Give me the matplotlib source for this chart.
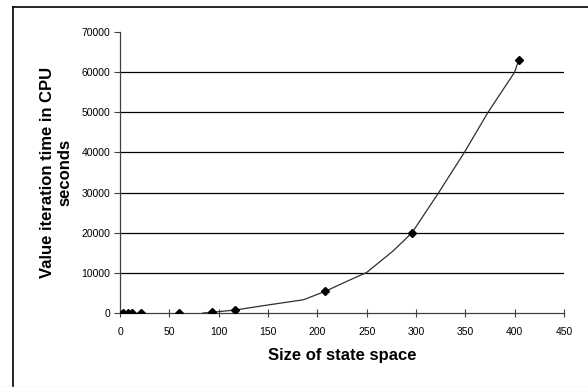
import matplotlib.pyplot as plt
from matplotlib.lines import Line2D

plt.rcParams['font.family'] = ['Liberation Sans', 'DejaVu Sans']

# measured run times
sizes = [3, 8, 12, 21, 60, 93, 117, 208, 296, 404]
times = [0, 0, 0, 0, 20, 170, 750, 5400, 20000, 63000]

# smoothed curve through the measurements
curve_x = [84, 93, 117, 150, 186, 208, 230, 250, 277, 296, 323, 349, 373, 400, 404]
curve_y = [0, 170, 750, 2000, 3300, 5400, 7900, 10100, 15500, 20000, 30000, 40000, 50000, 60000, 63000]

fig = plt.figure(figsize=(5.88, 3.87), dpi=100)
ax = fig.add_axes([120/588, 1-313/387, 444/588, 281/387])

for g in range(10000, 70000, 10000):
    ax.axhline(g, color='black', lw=0.9, zorder=1)

ax.plot(curve_x, curve_y, color='#303030', lw=0.9, zorder=2)
ax.plot(sizes, times, ls='none', marker='D', ms=4.5, color='black', zorder=3)

ax.set_xlim(0, 450)
ax.set_ylim(0, 70000)
ax.set_xticks(range(0, 451, 50))
ax.set_yticks(range(0, 70001, 10000))
ax.tick_params(labelsize=7.5, length=4, width=0.8, color='#404040', pad=3)
ax.tick_params(axis='x', direction='inout', length=6, pad=7)
for s in ['top', 'right']:
    ax.spines[s].set_visible(False)
for s in ['left', 'bottom']:
    ax.spines[s].set_color('#404040')
    ax.spines[s].set_linewidth(0.9)

ax.set_xlabel('Size of state space', fontsize=12, fontweight='bold')
ax.set_ylabel('Value iteration time in CPU\nseconds', fontsize=12, fontweight='bold',
              linespacing=1.15)
ax.xaxis.set_label_coords(0.5, -0.126)
ax.yaxis.set_label_coords(-0.108, 0.5)

# outer chart frame
fig.add_artist(Line2D([13/588, 13/588], [0, 1-7/387], color='black', lw=1.2))
fig.add_artist(Line2D([13/588, 1], [1-7/387, 1-7/387], color='black', lw=1.2))
fig.add_artist(Line2D([0, 1], [0.5/387, 0.5/387], color='#e0e0e0', lw=1))

fig.savefig('out.png', dpi=100)
